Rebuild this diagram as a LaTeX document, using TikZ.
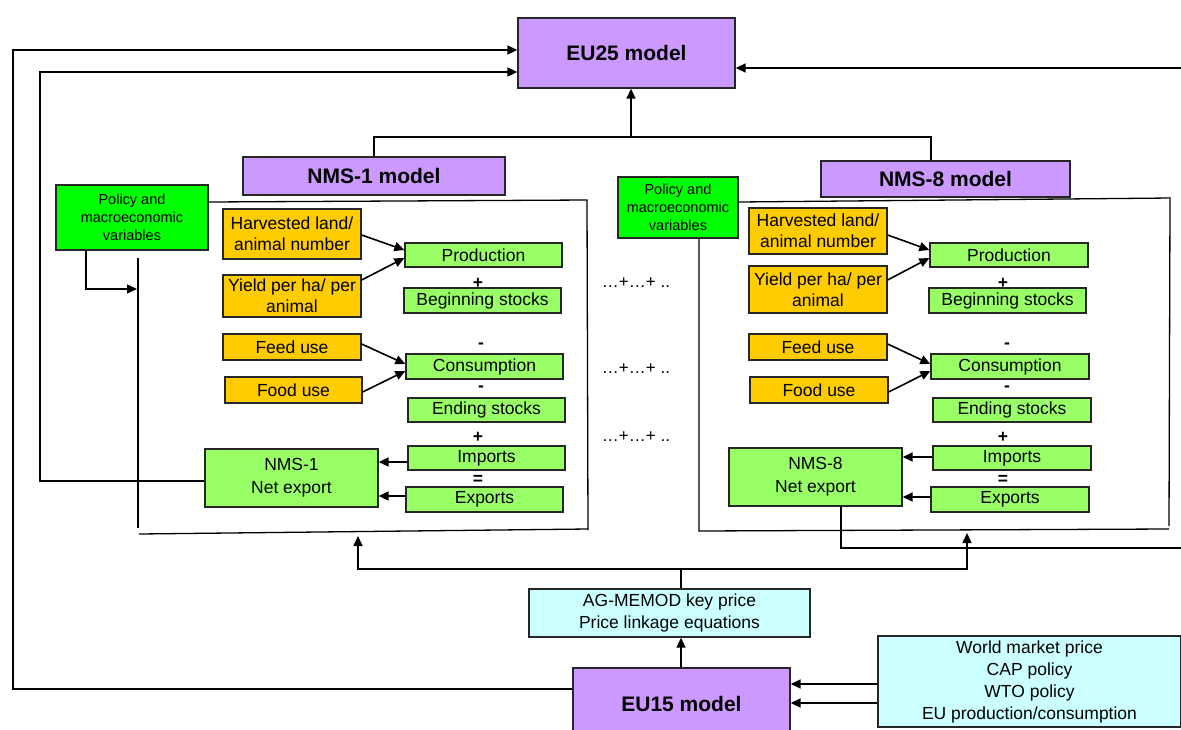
\documentclass[tikz,border=0pt]{standalone}
\usepackage{fontspec}
\setmainfont{Liberation Sans}
\usetikzlibrary{arrows.meta,calc}
\definecolor{purp}{HTML}{CC99FF}
\definecolor{lgreen}{HTML}{99FF66}
\definecolor{bgreen}{HTML}{00FF00}
\definecolor{orng}{HTML}{FFCC00}
\definecolor{lcyan}{HTML}{CCFFFF}
\tikzset{
  base/.style={draw=black!85, line width=1.3pt, inner sep=0pt, align=center},
  purpbox/.style={base, fill=purp, font=\fontsize{21}{24}\selectfont\bfseries},
  greenbox/.style={base, fill=lgreen, font=\fontsize{17.5}{23}\selectfont},
  orangebox/.style={base, fill=orng, font=\fontsize{17.5}{21}\selectfont},
  policybox/.style={base, fill=bgreen, font=\fontsize{14.5}{18}\selectfont},
  cyanbox/.style={base, fill=lcyan, font=\fontsize{17.5}{22}\selectfont},
  conn/.style={line width=1.6pt, draw=black},
  arr/.style={conn, -{Triangle[length=10pt,width=9pt]}},
  framel/.style={line width=1.3pt, draw=black},
  sign/.style={font=\fontsize{17.5}{20}\selectfont\bfseries, inner sep=0pt},
  dotstxt/.style={font=\fontsize{17}{20}\selectfont, inner sep=0pt},
}
\begin{document}
\begin{tikzpicture}[x=1pt,y=-1pt]
\useasboundingbox (0,0) rectangle (1181,729);
\fill[white] (0,0) rectangle (1181,729);

% top-level models
\node[purpbox, minimum width=217pt, minimum height=70pt] (eu25) at (626.5,53) {EU25 model};
\node[purpbox, minimum width=262pt, minimum height=38pt] (nms1) at (374,176) {NMS-1 model};
\node[purpbox, minimum width=249pt, minimum height=36pt] (nms8) at (945.5,179) {NMS-8 model};

% policy boxes
\node[policybox, minimum width=152pt, minimum height=65pt] (pol1) at (132,217.5) {Policy and\\macroeconomic\\variables};
\node[policybox, minimum width=120pt, minimum height=61pt] (pol8) at (678,207.5) {Policy and\\macroeconomic\\variables};

% panel frames
\draw[framel] (pol1.east |- 0,202) -- (587,200) -- (588,530);
\draw[framel] (138,258) -- (138,528);
\draw[framel] (139,534) -- (588,529);
\draw[framel] (pol8.east |- 0,202) -- (1171,198);
\draw[framel] (1170,199) -- (1169,526);
\draw[framel] (pol8.south -| 699,0) -- (699,531) -- (1169,529);

% left panel (NMS-1)
\node[orangebox, minimum width=138pt, minimum height=50pt] (harv1) at (292,234) {Harvested land/\\animal number};
\node[orangebox, minimum width=138pt, minimum height=42pt] (yield1) at (292,296) {Yield per ha/ per\\animal};
\node[orangebox, minimum width=138pt, minimum height=26pt] (feed1) at (292,347) {Feed use};
\node[orangebox, minimum width=137pt, minimum height=26pt] (food1) at (293.5,390) {Food use};
\node[greenbox, minimum width=157pt, minimum height=24pt] (prod1) at (483.5,255) {Production};
\node[greenbox, minimum width=157pt, minimum height=25pt] (beg1) at (482.5,300.5) {Beginning stocks};
\node[greenbox, minimum width=157pt, minimum height=25pt] (cons1) at (484.5,366.5) {Consumption};
\node[greenbox, minimum width=157pt, minimum height=24pt] (end1) at (486.5,410) {Ending stocks};
\node[greenbox, minimum width=157pt, minimum height=24pt] (imp1) at (486.5,458) {Imports};
\node[greenbox, minimum width=157pt, minimum height=25pt] (exp1) at (484.5,499.5) {Exports};
\node[greenbox, minimum width=173pt, minimum height=58pt] (net1) at (291.5,478) {NMS-1\\Net export};
\node[sign] (s1a) at (478,283) {+};
\node[sign] (s1b) at (481,346) {-};
\node[sign] (s1c) at (481,389) {-};
\node[sign] (s1d) at (478,437) {+};
\node[sign] (s1e) at (478,480) {=};

% right panel (NMS-8)
\node[orangebox, minimum width=138pt, minimum height=46pt] (harv2) at (818,231) {Harvested land/\\animal number};
\node[orangebox, minimum width=138pt, minimum height=47pt] (yield2) at (818,289.5) {Yield per ha/ per\\animal};
\node[orangebox, minimum width=138pt, minimum height=26pt] (feed2) at (818,347) {Feed use};
\node[orangebox, minimum width=138pt, minimum height=26pt] (food2) at (819,390) {Food use};
\node[greenbox, minimum width=158pt, minimum height=24pt] (prod2) at (1009,255) {Production};
\node[greenbox, minimum width=157pt, minimum height=25pt] (beg2) at (1007.5,300.5) {Beginning stocks};
\node[greenbox, minimum width=158pt, minimum height=25pt] (cons2) at (1010,366.5) {Consumption};
\node[greenbox, minimum width=158pt, minimum height=24pt] (end2) at (1012,410) {Ending stocks};
\node[greenbox, minimum width=158pt, minimum height=24pt] (imp2) at (1012,458) {Imports};
\node[greenbox, minimum width=158pt, minimum height=25pt] (exp2) at (1010,499.5) {Exports};
\node[greenbox, minimum width=173pt, minimum height=58pt] (net2) at (815.5,477) {NMS-8\\Net export};
\node[sign] (s2a) at (1003,283) {+};
\node[sign] (s2b) at (1007,346) {-};
\node[sign] (s2c) at (1007,389) {-};
\node[sign] (s2d) at (1003,437) {+};
\node[sign] (s2e) at (1003,480) {=};

% dots between panels
\node[dotstxt] (d1) at (636,283) {…+…+ ..};
\node[dotstxt] (d2) at (636,369) {…+…+ ..};
\node[dotstxt] (d3) at (636,437) {…+…+ ..};

% bottom boxes
\node[cyanbox, minimum width=281pt, minimum height=48pt] (agm) at (669.5,613) {AG-MEMOD key price\\Price linkage equations};
\node[purpbox, minimum width=217pt, minimum height=72pt] (eu15) at (681.5,704) {EU15 model};
\node[cyanbox, minimum width=303pt, minimum height=91pt] (world) at (1029.5,681.5) {World market price\\CAP policy\\WTO policy\\EU production/consumption};

% coordinates for free ends
\coordinate (busL) at (374,137);
\coordinate (busM) at (631,137);
\coordinate (busR) at (931,137);
\coordinate (rightA) at (1181,68);
\coordinate (rightB) at (1181,548);
\coordinate (join) at (681,569);

% NMS models up to EU25
\draw[conn] (nms1.north -| busL) -- (busL) -- (busR) -- (nms8.north -| busR);
\draw[arr] (busM) -- (eu25.south -| busM);

% feedback lines to EU25
\draw[arr] (eu15.west |- 0,689) -- (13,689) -- (13,50) -- (eu25.west |- 0,50);
\draw[arr] (net1.west |- 0,481) -- (40,481) -- (40,72) -- (eu25.west |- 0,72);
\draw[arr] (rightA) -- (eu25.east |- rightA);
\draw[conn] (net2.south -| 841,0) -- (841,548) -- (rightB);

% policy arrow
\draw[arr] (pol1.south -| 86,0) -- (86,289) -- (137,289);

% inputs to production / consumption
\draw[arr] (harv1.east |- 0,235) -- (prod1.west |- 0,250);
\draw[arr] (yield1.east |- 0,280) -- (prod1.west |- 0,258);
\draw[arr] (feed1.east |- 0,344) -- (cons1.west |- 0,364);
\draw[arr] (food1.east |- 0,392) -- (cons1.west |- 0,371);
\draw[arr] (harv2.east |- 0,235) -- (prod2.west |- 0,250);
\draw[arr] (yield2.east |- 0,280) -- (prod2.west |- 0,258);
\draw[arr] (feed2.east |- 0,344) -- (cons2.west |- 0,364);
\draw[arr] (food2.east |- 0,392) -- (cons2.west |- 0,371);

% imports / exports to net export
\draw[arr] (imp1.west |- 0,462) -- (net1.east |- 0,462);
\draw[arr] (exp1.west |- 0,496) -- (net1.east |- 0,496);
\draw[arr] (imp2.west |- 0,457) -- (net2.east |- 0,457);
\draw[arr] (exp2.west |- 0,497) -- (net2.east |- 0,497);

% price linkage
\draw[arr] (eu15.north -| join) -- (agm.south -| join);
\draw[conn] (agm.north -| join) -- (join);
\draw[arr] (join) -| (358,536);
\draw[arr] (join) -| (967,533);

% world inputs
\draw[arr] (world.west |- 0,684) -- (eu15.east |- 0,684);
\draw[arr] (world.west |- 0,703) -- (eu15.east |- 0,703);
\end{tikzpicture}
\end{document}
